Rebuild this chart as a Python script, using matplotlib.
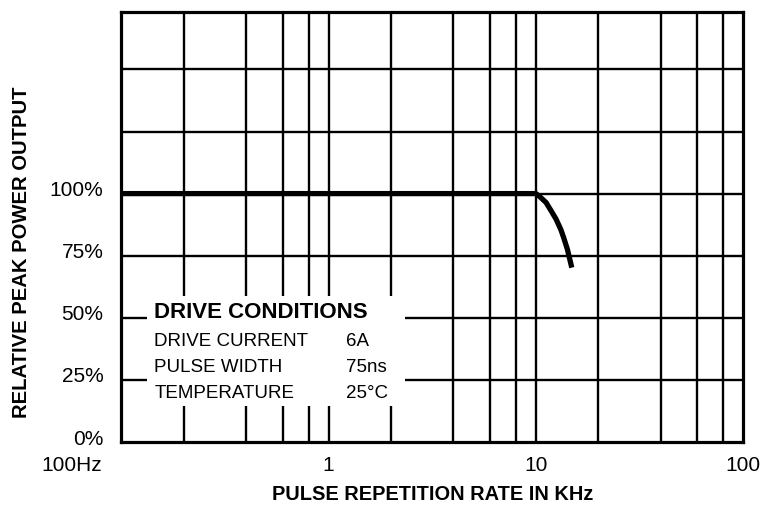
import matplotlib.pyplot as plt
from matplotlib.patches import Rectangle
from matplotlib.transforms import ScaledTranslation

plt.rcParams['font.family'] = ['Liberation Sans', 'DejaVu Sans']

# peak power vs pulse repetition rate
rate_khz = [0.1, 1, 10, 10.5, 11.2, 11.8, 12.5, 13.2, 13.6, 14.2, 14.9]
power_pct = [100, 100, 100, 98.6, 96.4, 93.3, 89.8, 85.5, 82.4, 77.5, 70.2]

# grid lines and ticks
grid_x = [0.2, 0.4, 0.6, 0.8, 1, 2, 4, 6, 8, 10, 20, 40, 60, 80]
grid_y = [25, 50, 75, 100, 125, 150]
xtick_vals = [0.1, 1, 10, 100]
xtick_labels = ['100Hz', '1', '10', '100']
ytick_vals = [0, 25, 50, 75, 100]
ytick_labels = ['0%', '25%', '50%', '75%', '100%']

# drive conditions box
cond_names = ['DRIVE CURRENT', 'PULSE WIDTH', 'TEMPERATURE']
cond_values = ['6A', '75ns', '25°C']

fig = plt.figure(figsize=(7.63, 5.11), dpi=100)
ax = fig.add_axes([0.159, 0.135, 0.815, 0.841])
ax.set_xscale('log')
ax.set_xlim(0.1, 100)
ax.set_ylim(0, 173)

for gx in grid_x:
    ax.axvline(gx, color='black', lw=1.7, zorder=1)
for gy in grid_y:
    ax.axhline(gy, color='black', lw=1.7, zorder=1)

ax.plot(rate_khz, power_pct, color='black', lw=3.8, solid_capstyle='butt',
        solid_joinstyle='round', zorder=3)

for s in ax.spines.values():
    s.set_linewidth(2.3)

ax.set_xticks(xtick_vals)
ax.set_xticklabels(xtick_labels)
ax.xaxis.set_minor_locator(plt.NullLocator())
ax.set_yticks(ytick_vals)
ax.set_yticklabels(ytick_labels)
ax.tick_params(axis='x', length=0, labelsize=15, pad=10)
ax.tick_params(axis='y', length=0, labelsize=15, pad=13)

# labels sit a bit above their grid lines in the original
for lab in ax.get_yticklabels():
    lab.set_transform(lab.get_transform() + ScaledTranslation(0, 0.05, fig.dpi_scale_trans))
hz = ax.get_xticklabels()[0]
hz.set_horizontalalignment('right')
hz.set_transform(hz.get_transform() + ScaledTranslation(-0.19, 0, fig.dpi_scale_trans))

# white box with conditions text, hides grid behind it
ax.add_patch(Rectangle((0.042, 0.084), 0.414, 0.255, transform=ax.transAxes,
                       facecolor='white', edgecolor='none', zorder=2))
ax.text(0.053, 0.302, 'DRIVE CONDITIONS', transform=ax.transAxes, fontsize=16,
        fontweight='bold', va='center', zorder=4)
for i, (name, val) in enumerate(zip(cond_names, cond_values)):
    yy = 0.234 - i * 0.06
    ax.text(0.053, yy, name, transform=ax.transAxes, fontsize=13.5, va='center', zorder=4)
    ax.text(0.362, yy, val, transform=ax.transAxes, fontsize=13.5, va='center', zorder=4)

fig.text(0.028, 0.507, 'RELATIVE PEAK POWER OUTPUT', rotation=90, fontsize=14.6,
         fontweight='bold', ha='center', va='center')
fig.text(0.567, 0.033, 'PULSE REPETITION RATE IN KHz', fontsize=14.4,
         fontweight='bold', ha='center', va='center')

fig.savefig('out.png', dpi=100)
